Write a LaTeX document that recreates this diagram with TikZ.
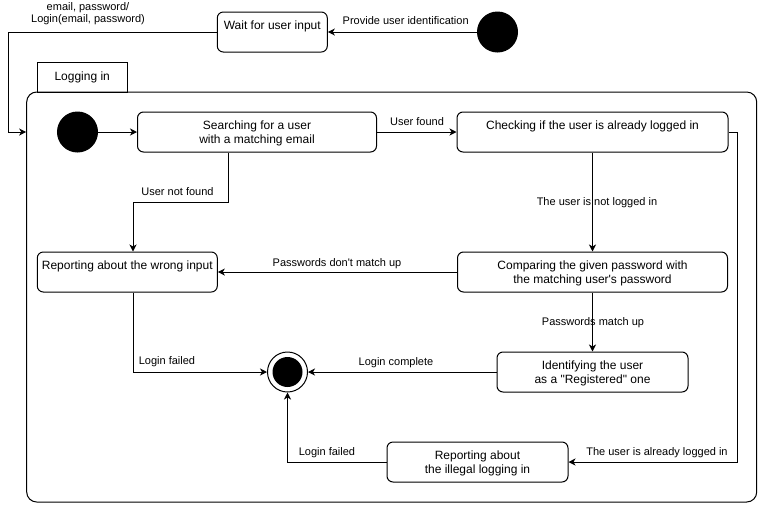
\documentclass[tikz,border=0pt]{standalone}
\usepackage{fontspec}
\setmainfont{Liberation Sans}[Ligatures=TeXOff]
\usetikzlibrary{arrows.meta,calc}
\begin{document}
\begin{tikzpicture}[x=1pt,y=-1pt,line width=1pt,
  stbox/.style={draw, rounded corners=6pt, fill=white, inner sep=0pt, minimum width=#1, minimum height=40pt},
  boxtxt/.style={anchor=north, inner sep=0pt, align=center, font=\fontsize{12}{14}\selectfont},
  lbl/.style={inner sep=0pt, align=center, font=\fontsize{11}{14}\selectfont, text height=8pt, text depth=2pt},
  initst/.style={circle, fill=black, draw=black, inner sep=0pt, minimum size=40pt},
  finalst/.style={circle, draw=black, fill=white, inner sep=0pt, minimum size=40pt,
     path picture={\fill[black] (path picture bounding box.center) circle (15pt);}},
  arr/.style={-{Stealth[length=7pt,width=7pt,inset=2pt]}, line width=1pt}]
\useasboundingbox (0,0) rectangle (758,504);

% container and tab
\node[draw, rounded corners=10pt, inner sep=0pt, minimum width=730pt, minimum height=410pt] (cont) at (391.7,297) {};
\node[draw, inner sep=0pt, minimum width=90pt, minimum height=30pt, font=\fontsize{12}{14}\selectfont] (tab) at (82.2,77) {Logging in};

% states
\node[initst] (init0) at (497.5,32) {};
\node[stbox=110pt] (wait) at (272.3,32) {};
\node[boxtxt] (waitT) at ([yshift=-9pt]wait.north) {Wait for user input};

\node[initst] (init1) at (77.5,132) {};
\node[stbox=239pt] (search) at (257,132) {};
\node[boxtxt] (searchT) at ([yshift=-9pt]search.north) {Searching for a user\\with a matching email};

\node[stbox=271pt] (check) at (592.5,132) {};
\node[boxtxt] (checkT) at ([yshift=-9pt]check.north) {Checking if the user is already logged in};

\node[stbox=180pt] (wrong) at (127.3,272) {};
\node[boxtxt] (wrongT) at ([yshift=-9pt]wrong.north) {Reporting about the wrong input};

\node[stbox=270pt] (compare) at (592.5,272) {};
\node[boxtxt] (compareT) at ([yshift=-9pt]compare.north) {Comparing the given password with\\the matching user's password};

\node[stbox=191pt] (ident) at (592.5,372) {};
\node[boxtxt] (identT) at ([yshift=-9pt]ident.north) {Identifying the user\\as a "Registered" one};

\node[stbox=181pt] (illegal) at (477.5,462) {};
\node[boxtxt] (illegalT) at ([yshift=-9pt]illegal.north) {Reporting about\\the illegal logging in};

\node[finalst] (final) at (287.5,372) {};

% helper coordinates
\coordinate (lx) at (8,132);
\coordinate (rx) at (737,462);
\coordinate (j1) at (133,202);

% connectors
\draw[arr] (init0) -- (wait);
\draw[arr] (wait.west) -| (lx) -- (lx -| cont.west);
\draw[arr] (init1) -- (search);
\draw[arr] (search) -- (check);
\draw[arr] ([xshift=-29pt]search.south) |- (j1) -- (j1 |- wrong.north);
\draw[arr] (check.south) -- (compare.north);
\draw[arr] (compare.west) -- (wrong.east);
\draw[arr] (compare.south) -- (ident.north);
\draw[arr] (ident.west) -- (final.east);
\draw[arr] (j1 |- wrong.south) |- (final.west);
\draw[arr] (check.east) -| (rx) -- (illegal.east);
\draw[arr] (illegal.west) -| (final.south);

% labels
\node[lbl] (l1) at (405.7,21) {Provide user identification};
\node[lbl, text height=, text depth=, font=\fontsize{11}{12.5}\selectfont] (l2) at (88,13.5) {email, password/\\Login(email, password)};
\node[lbl] (l3) at (417,122) {User found};
\node[lbl] (l4) at (177.5,192) {User not found};
\node[lbl] (l5) at (597,202) {The user is not logged in};
\node[lbl] (l6) at (337,263) {Passwords don't match up};
\node[lbl] (l7) at (593,322) {Passwords match up};
\node[lbl] (l8) at (167,361) {Login failed};
\node[lbl] (l9) at (396,362) {Login complete};
\node[lbl] (l10) at (327,452) {Login failed};
\node[lbl] (l11) at (657,452) {The user is already logged in};
\end{tikzpicture}
\end{document}
